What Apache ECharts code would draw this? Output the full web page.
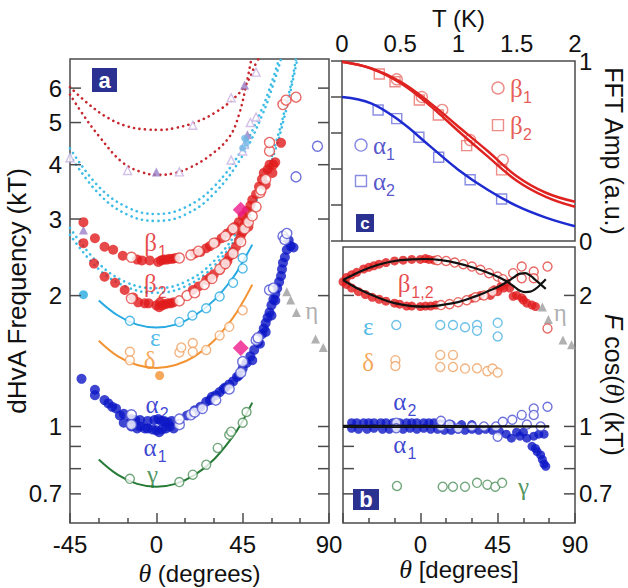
<!DOCTYPE html>
<html>
<head>
<meta charset="utf-8">
<script src="https://cdn.jsdelivr.net/npm/echarts@6/dist/echarts.min.js"></script>
<style>
  html, body { margin: 0; padding: 0; background: #fff; }
  #chart { width: 628px; height: 588px; }
</style>
</head>
<body>
<div id="chart"></div>
<script>
// ---------------- Panel a: dHvA frequency (kT) versus field angle ----------------
const redFitUpper = [[-45,6.03],[-35,5.5],[-25,5.12],[-15,4.9],[-5,4.82],[2,4.81],[10,4.86],[20,5.0],[30,5.25],[40,5.66],[47,6.15],[52,6.85],[53.2,7.0]];
const redFitLower = [[-45,5.8],[-38,5.2],[-30,4.66],[-18,4.06],[-8,3.85],[1,3.79],[10,3.83],[18,3.95],[28,4.2],[38,4.63],[43,5.2],[47,6.15],[49.5,7.0]];
const cyanFitUpperA = [[-45,4.36],[-30,3.56],[-15,3.19],[0,3.08],[15,3.19],[30,3.56],[45,4.36],[55,5.37],[60,6.16],[64,7.0]];
const cyanFitUpperB = [[-45,4.2],[-30,3.43],[-15,3.07],[0,2.97],[15,3.07],[30,3.43],[45,4.2],[55,5.18],[60,5.94],[65,7.0]];
const cyanFitLowerA = [[-45,2.86],[-30,2.37],[-15,2.14],[0,2.08],[15,2.15],[30,2.4],[45,2.94],[55,3.6],[62,4.45],[67,5.35],[71,6.35],[72.8,7.0]];
const cyanFitLowerB = [[-45,2.76],[-30,2.3],[-15,2.09],[0,2.03],[15,2.1],[30,2.34],[45,2.87],[55,3.54],[62,4.32],[67,5.2],[71,6.2],[73.5,7.0]];
const epsFit   = [[-30,1.95],[-20,1.8],[-10,1.715],[0,1.69],[10,1.715],[20,1.8],[30,1.95],[40,2.2],[45,2.39],[50,2.62]];
const deltaFit = [[-30,1.575],[-20,1.45],[-10,1.385],[0,1.364],[10,1.385],[20,1.45],[30,1.575],[40,1.78],[45,1.93],[50,2.12]];
const gammaFit = [[-30,0.84],[-20,0.774],[-10,0.738],[0,0.727],[10,0.738],[20,0.774],[30,0.84],[40,0.95],[45,1.03],[50,1.135]];

const betaFilled = [
  [-38,2.95],[-32,2.71],[-27,2.59],[-22.5,2.55],[-17.5,2.47],[-10,2.42],[-7.5,2.41],[-3.5,2.41],[1,2.39],[2.5,2.41],[4,2.42],[5.5,2.42],[7,2.43],[8.5,2.43],[10,2.44],
  [20,2.5],[23,2.52],[26,2.57],[28,2.6],[31,2.65],[34,2.71],[37,2.78],[39,2.82],[41,2.88],[43,2.95],[45,3.05],[47,3.13],[49,3.22],[50,3.32],[52,3.42],[53.5,3.56],[55,3.7],[56,3.83],[57,3.6],[58,3.9],[59,4.0],[60.5,3.83],[61,4.0],[62,4.05],[65,4.49],
  [-38,2.64],[-32.5,2.37],[-27,2.21],[-21.5,2.14],[-16.5,2.06],[-12,1.98],[-9.5,1.93],[-6,1.92],[-4,1.92],[0,1.9],[1.5,1.88],[3,1.9],[4.5,1.91],[6,1.92],[7.5,1.92],[9,1.93],[2,1.93],
  [19,2.06],[22,2.1],[26,2.17],[28,2.2],[30,2.24],[33,2.29],[35,2.35],[37,2.4],[38,2.46],[40,2.52],[41.5,2.59],[43,2.67],[44,2.75],[45,2.8],[46,2.9],[47,2.98],[48,2.88]
];
const betaOpen = [
  [-13,2.45],[12,2.44],[18,2.48],[22,2.53],[30,2.64],[36,2.74],[40,2.85],[-13,1.97],[12,1.945],[16,2.0],[20,2.03],[25,2.12],[29,2.19],[33,2.3],[36,2.37],
  [40,2.5],[44,2.66],[46,2.85],[48,2.95],[50,3.05],[52,3.2],[54,3.45],[57,3.7],[54.6,3.5],[59,4.3],[59,4.5],[66,5.5],[67.6,5.63],[72.8,5.72]
];
const alphaFilled = [
  [-39,1.287],[-32,1.215],[-32,1.18],[-27,1.15],[-25,1.13],[-23,1.11],[-21,1.1],[-19,1.06],[-17,1.07],[-13,1.04],[-11,1.035],[-8.5,1.035],[-4.5,1.03],[-1,1.035],[1,1.04],[2.5,1.03],[4,1.03],[6,1.02],[8,1.03],
  [-17,1.02],[-13,1.0],[-10,0.99],[-8.5,1.0],[-6,0.99],[-4.5,0.99],[-2,0.985],[0,0.98],[1.5,0.97],[3,0.985],[5,0.99],[7,1.0],[9,0.99],
  [16,1.06],[20,1.09],[23,1.11],[26,1.14],[28,1.15],[29,1.17],[31,1.18],[33,1.2],[35,1.22],[36,1.23],[38,1.25],[40,1.27],[42,1.3],[43,1.31],
  [45,1.36],[47,1.4],[49,1.45],[51,1.5],[53,1.56],[55,1.63],[56,1.68],[57,1.73],[58,1.78],[59,1.83],[60,1.9],[61,1.96],[62,2.02],[63,2.08],[64,2.15],[65,2.22],[65.5,2.3],[66,2.38],[67,2.45],[68,2.55],[70,2.6],[71.5,2.58],[69,2.68],
  [50,1.42],[54,1.55],[57,1.65],[60,1.8],[62,1.95]
];
const alphaOpen = [
  [-13,1.064],[-13,1.01],[12,1.01],[18,1.064],[12,1.04],[20,1.08],[24,1.1],[31,1.15],[38,1.22],[44,1.33],[45,1.41],[52,1.58],[53,1.6],[59,2.06],[61,2.08],
  [66,2.74],[67,2.69],[68,2.78],[72.8,3.75],[84,4.41]
];
const epsOpen   = [[-13.8,1.75],[12,1.74],[18.8,1.8],[26,1.87],[33,1.99],[40,2.14],[45,2.31],[45,2.44]];
const deltaOpen = [[-13.8,1.485],[-13.8,1.42],[12,1.48],[13,1.52],[19,1.556],[19,1.485],[26,1.5],[33,1.62],[38,1.695],[45,1.85]];
const gammaOpen = [[-13.8,0.758],[12,0.745],[19,0.775],[26,0.817],[32,0.893],[38,0.957],[39,0.973],[45,1.02],[47,1.08]];
const epsDot    = [[-38,2.01]];
const deltaDot  = [[1.7,1.31]];
const cyanDots  = [[47,4.49],[45,4.37],[46,4.6]];
const etaA      = [[68,2.04],[70,1.955],[73,1.83],[83,1.59],[87,1.52]];
const triFilled = [[-38,2.83],[0,3.85],[46,6.1],[47.5,4.69]];
const triOpen   = [[-45,4.15],[-15,3.88],[12,3.85],[19,4.93],[52,6.53],[39,5.7],[52,5.15],[46,4.45],[39,4.1],[49,5.0],[45,4.3]];
const diamonds  = [[44,3.15],[44,1.516]];

// ---------------- Panel c: FFT amplitude versus temperature ----------------
const tempK     = [0,0.25,0.5,0.75,1.0,1.25,1.5,1.75,2.0];
const ampBeta1  = [0.996,0.96,0.885,0.77,0.635,0.50,0.36,0.268,0.218];
const ampBeta2  = [0.996,0.958,0.878,0.755,0.61,0.47,0.335,0.245,0.19];
const ampAlpha  = [0.80,0.765,0.665,0.53,0.395,0.285,0.195,0.13,0.082];
const beta1Pts  = [[0.47,0.898],[0.685,0.80],[0.86,0.728],[1.1,0.561],[1.38,0.45]];
const beta2Pts  = [[0.32,0.928],[0.455,0.885],[0.664,0.783],[0.827,0.70],[1.07,0.53],[1.37,0.395]];
const alpha2Pts = [[0.31,0.728],[0.47,0.68],[0.66,0.576],[0.83,0.465],[1.1,0.34],[1.37,0.233]];

// ---------------- Panel b: F cos(theta) versus angle ----------------
const lensUpper = [[-45,2.17],[-35,2.27],[-25,2.35],[-15,2.4],[-5,2.42],[3,2.425],[12,2.41],[22,2.37],[32,2.31],[40,2.25],[46,2.2],[50.6,2.15],[55,2.09],[58,2.05],[61,2.035],[64,2.04],[67,2.07],[70,2.12],[73,2.18]];
const lensLower = [[-45,2.17],[-35,2.06],[-25,1.98],[-15,1.92],[-5,1.89],[3,1.885],[12,1.9],[22,1.93],[32,1.99],[40,2.05],[46,2.1],[50.6,2.15],[55,2.21],[58,2.245],[61,2.25],[64,2.22],[67,2.17],[70,2.12],[73,2.07]];
const alphaFitHi = [[-45,1.004],[0,1.004],[40,1.002],[75,0.999]];
const alphaFitLo = [[-45,0.996],[0,0.996],[40,0.998],[75,1.001]];
const betaFilledB = [
  [-45,2.15],[-43,2.2],[-40,2.23],[-37,2.26],[-33,2.3],[-30,2.32],[-27,2.34],[-24,2.36],[-20,2.38],[-15,2.4],[-10,2.41],[-5,2.42],[0,2.42],[3,2.43],[5,2.42],[8,2.41],
  [-43,2.12],[-40,2.08],[-36,2.04],[-32,2.01],[-28,1.98],[-24,1.96],[-20,1.94],[-15,1.92],[-12,1.91],[-8,1.89],[-5,1.89],[0,1.885],[3,1.89],[6,1.89],[9,1.9],
  [30,1.97],[35,2.0],[40.7,2.0],[43,2.06],[45,2.04],[47,2.1],[48.5,2.08],[50,2.14],[52,2.08],[54,1.99],[56,2.0],[59,1.975],[60,1.95],[62,1.92],[65,1.9],[67,1.885]
];
const betaOpenB = [
  [10,2.41],[15,2.4],[20,2.38],[25,2.36],[30,2.33],[35,2.29],[40,2.25],[45,2.21],[48,2.18],
  [12,1.9],[17,1.91],[22,1.93],[27,1.95],[32,1.98],[37,2.0],[42,2.04],
  [54,2.25],[59,2.33],[66,2.27],[74,2.33],[59,2.19],[66,2.19],[74,1.68]
];
const alphaFilledB = [
  [-40,1.02],[-37,1.02],[-33,1.02],[-30,1.02],[-27,1.02],[-23,1.02],[-20,1.02],[-16,1.02],[-12,1.02],[-8,1.02],[-5,1.02],[-2,1.02],[2,1.02],[5,1.02],[8,1.02],[12,1.015],[18,1.01],[24,1.01],[30,1.01],
  [-40,0.99],[-36,0.985],[-31,0.985],[-27,0.99],[-22,0.985],[-18,0.985],[-14,0.99],[-10,0.985],[-6,0.99],[-2,0.985],[2,0.99],[6,0.985],[10,0.985],[14,0.98],[18,0.98],[22,0.985],[26,0.98],[30,0.985],[34,0.98],[38,0.985],[42,0.98],
  [46,0.975],[50,0.96],[53,0.94],[56,0.97],[58,0.95],[60,0.97],[62,0.94],[65,0.9],[67,0.89],[68,0.875],[70,0.86],[71,0.84],[72,0.82],[73,0.81],[66,0.95],[69,0.96],[72,0.96]
];
const alphaOpenB = [[-14,1.02],[-14,0.99],[12,1.0],[12,1.03],[17,1.01],[22,0.99],[30,1.0],[37,1.0],[44,1.0],[48,1.025],[53.5,1.036],[59,1.063],[66,1.1],[66,1.063],[74,1.11],[45,0.947],[70,1.0],[62,1.01]];
const epsB   = [[-14,1.71],[11.6,1.71],[19,1.71],[26,1.69],[33,1.71],[33,1.66],[45,1.73],[45,1.61]];
const deltaB = [[-14.5,1.42],[-14.5,1.377],[11.6,1.46],[11.6,1.37],[19,1.46],[19,1.37],[26,1.358],[33,1.36],[39,1.34],[42,1.358],[45,1.33]];
const gammaB = [[-13.6,0.73],[13,0.727],[19,0.727],[26,0.727],[33,0.742],[39,0.735],[43.6,0.727],[47.6,0.742]];
const etaB   = [[71,1.88],[74.5,1.76],[83,1.58],[88,1.54]];

// ---------------- tick values and branch labels ----------------
const freqTicks  = [0.7, 0.8, 0.9, 1, 2, 3, 4, 5, 6];
const freqLabels = [0.7, 1, 2, 3, 4, 5, 6];
const fcosTicks  = [0.7, 0.8, 0.9, 1, 2];
const fcosLabels = [0.7, 1, 2];
// [theta, F, letter, subscript]; a subscripted label is anchored where letter and subscript meet
const labelsRedA    = [[0.4,2.644,'β','1'],[0.2,2.138,'β','2']];
const labelsCyanA   = [[-0.5,1.6,'ε','']];
const labelsOrangeA = [[-3.5,1.42,'δ','']];
const labelsBlueA   = [[1.2,1.122,'α','2'],[0.2,0.893,'α','1']];
const labelsGreenA  = [[-2,0.774,'γ','']];
const labelsGrayA   = [[81,1.85,'η','']];
const labelsRedB    = [[-5.8,2.13,'β','1,2']];
const labelsCyanB   = [[-30.3,1.695,'ε','']];
const labelsOrangeB = [[-30.3,1.40,'δ','']];
const labelsBlueB   = [[-8.1,1.14,'α','2'],[-8.1,0.908,'α','1']];
const labelsGreenB  = [[60,0.727,'γ','']];
const labelsGrayB   = [[81.5,1.826,'η','']];
// key entries of panel c: [T, amplitude, letter, subscript]
const keyBeta1  = [[1.339,0.85,'β','1']];
const keyBeta2  = [[1.339,0.644,'β','2']];
const keyAlpha1 = [[0.163,0.533,'α','1']];
const keyAlpha2 = [[0.163,0.333,'α','2']];

// ---------------- drawing ----------------
const SANS = '"Liberation Sans", Arial, sans-serif';
const SERIF = '"Liberation Serif", "Times New Roman", serif';
const C = {
  red: '#e11b1d', redOpen: '#e2443f', redDot: '#c6262c',
  cyan: '#27a9e1', cyanDot: '#3dbde6',
  orange: '#f39230', blue: '#0d17c6', blueOpen: '#4a4fd2',
  green: '#257a36', gray: '#9c9c9c', magenta: '#ec1a8c',
  purple: '#9a80c8', purpleLight: '#c8b2e2', navy: '#2b3190',
  frame: '#4b4b4b', text: '#111'
};

const chart = echarts.init(document.getElementById('chart'), null, { renderer: 'svg' });

function fitLine(data, xi, yi, color, width, dotted, z) {
  return {
    type: 'line', data, xAxisIndex: xi, yAxisIndex: yi, smooth: 0.4,
    showSymbol: false, silent: true, z: z || (dotted ? 1 : 4),
    lineStyle: { color, width, type: dotted ? [0.1, 5.4] : 'solid', cap: dotted ? 'round' : 'butt' }
  };
}
function marks(data, xi, yi, opt) {
  return {
    type: 'scatter', data, xAxisIndex: xi, yAxisIndex: yi, silent: true,
    symbol: opt.symbol || 'circle', symbolSize: opt.size || 10, z: opt.z || 3,
    itemStyle: opt.open
      ? { color: opt.fill || '#fff', borderColor: opt.color, borderWidth: opt.bw || 1.4 }
      : { color: opt.color, borderWidth: 0 }
  };
}
// Greek branch letters (serif) plus their lowered subscripts (sans), as two label layers
function greek(items, xi, yi, color, size, keyMode) {
  const base = { type: 'scatter', xAxisIndex: xi, yAxisIndex: yi, silent: true, z: 8, symbolSize: 0 };
  const letters = Object.assign({}, base, {
    data: items.map(d => {
      const item = { value: [d[0], d[1]], name: d[2] };
      if (d[3] && !keyMode) item.label = { align: 'right' };
      return item;
    }),
    label: {
      show: true, position: keyMode ? 'right' : 'inside', distance: 12,
      formatter: p => p.name, fontFamily: SERIF, fontSize: size, color
    }
  });
  const subs = Object.assign({}, base, {
    data: items.filter(d => d[3]).map(d => ({ value: [d[0], d[1]], name: d[3] })),
    label: {
      show: true, position: keyMode ? 'right' : 'inside', distance: 12, align: 'left',
      offset: keyMode ? [13, 9] : [1, 9],
      formatter: p => p.name, fontFamily: SANS, fontSize: Math.round(size * 0.62), color
    }
  });
  return [letters, subs];
}
function logTicks(values, labels, xi, yi, xMin, xMax, labelSide, leftTicks, rightTicks) {
  return {
    type: 'custom', xAxisIndex: xi, yAxisIndex: yi, silent: true, z: 5,
    data: values.map(v => [xMin, v]),
    renderItem: (params, api) => {
      const v = api.value(1);
      const l = api.coord([xMin, v]);
      const r = api.coord([xMax, v]);
      const kids = [];
      const st = { stroke: C.frame, lineWidth: 1.5 };
      if (leftTicks) kids.push({ type: 'line', shape: { x1: l[0], y1: l[1], x2: l[0] + 11, y2: l[1] }, style: st });
      if (rightTicks) kids.push({ type: 'line', shape: { x1: r[0] - 11, y1: r[1], x2: r[0], y2: r[1] }, style: st });
      if (labels.indexOf(v) >= 0) {
        const left = labelSide === 'left';
        kids.push({ type: 'text', style: {
          text: String(v), x: left ? l[0] - 8 : r[0] + 4, y: l[1],
          align: left ? 'right' : 'left', verticalAlign: 'middle',
          fill: C.text, font: '24px ' + SANS
        } });
      }
      return { type: 'group', children: kids };
    }
  };
}

const angleAxisBase = {
  type: 'value', min: -45, max: 90, interval: 45,
  axisLine: { show: false }, splitLine: { show: false },
  axisTick: { show: true, inside: true, length: 10, lineStyle: { color: C.frame, width: 1.5 } },
  minorTick: { show: true, splitNumber: 3, length: 5, lineStyle: { color: C.frame, width: 1.5 } },
  axisLabel: { color: C.text, fontFamily: SANS, fontSize: 24, margin: 9 },
  nameLocation: 'middle', nameGap: 32,
  nameTextStyle: { color: C.text, fontFamily: SANS, fontSize: 24,
    rich: { i: { fontFamily: SERIF, fontStyle: 'italic', fontSize: 26, color: C.text } } }
};
const hiddenLog = (min, max, grid, pos, extra) => Object.assign({
  type: 'log', logBase: 10, min, max, gridIndex: grid, position: pos,
  axisLine: { show: false }, axisTick: { show: false }, axisLabel: { show: false }, splitLine: { show: false }
}, extra || {});

const option = {
  animation: false,
  backgroundColor: '#fff',
  grid: [
    { left: 70, top: 59, width: 259, height: 464, show: true, borderColor: C.frame, borderWidth: 1.5, outerBoundsMode: 'none' },
    { left: 342, top: 61, width: 233, height: 180, show: true, borderColor: C.frame, borderWidth: 1.5, outerBoundsMode: 'none' },
    { left: 343, top: 247, width: 232, height: 276, show: true, borderColor: C.frame, borderWidth: 1.5, outerBoundsMode: 'none' }
  ],
  xAxis: [
    Object.assign({}, angleAxisBase, { gridIndex: 0, position: 'bottom', name: '{i|θ} (degrees)' }),
    {
      type: 'value', gridIndex: 1, position: 'top', min: 0, max: 2, interval: 0.5,
      axisLine: { show: false }, splitLine: { show: false }, axisTick: { show: false },
      axisLabel: { color: C.text, fontFamily: SANS, fontSize: 24, margin: 6 },
      name: 'T (K)', nameLocation: 'middle', nameGap: 30,
      nameTextStyle: { color: C.text, fontFamily: SANS, fontSize: 24 }
    },
    Object.assign({}, angleAxisBase, { gridIndex: 2, position: 'bottom', name: '{i|θ} [degrees]',
      axisLabel: Object.assign({}, angleAxisBase.axisLabel, { formatter: v => (v === -45 ? '' : String(v)) }) })
  ],
  yAxis: [
    hiddenLog(0.6, 7, 0, 'left', {
      name: 'dHvA Frequency (kT)', nameLocation: 'middle', nameGap: 40, nameRotate: 90,
      nameTextStyle: { color: C.text, fontFamily: SANS, fontSize: 26 }
    }),
    hiddenLog(0.6, 7, 0, 'right'),
    {
      type: 'value', gridIndex: 1, position: 'right', min: 0, max: 1, interval: 0.2,
      axisLine: { show: false }, splitLine: { show: false },
      axisTick: { show: true, inside: true, length: 11, lineStyle: { color: C.frame, width: 1.5 } },
      axisLabel: { color: C.text, fontFamily: SANS, fontSize: 24, margin: 4,
        formatter: v => (v === 0 || v === 1 ? String(v) : '') },
      name: 'FFT Amp (a.u.)', nameLocation: 'middle', nameGap: 26, nameRotate: -90,
      nameTextStyle: { color: C.text, fontFamily: SANS, fontSize: 25 }
    },
    hiddenLog(0.6, 2.584, 2, 'right', {
      name: '{fi|F} cos({ti|θ}) (kT)', nameLocation: 'middle', nameGap: 26, nameRotate: -90,
      nameTextStyle: { color: C.text, fontFamily: SANS, fontSize: 25,
        rich: { fi: { fontFamily: SANS, fontStyle: 'italic', fontSize: 25, color: C.text },
                ti: { fontFamily: SERIF, fontStyle: 'italic', fontSize: 26, color: C.text } } }
    }),
    hiddenLog(0.6, 2.584, 2, 'left')
  ],
  graphic: [
    { type: 'rect', shape: { x: 92, y: 68, width: 25, height: 24 }, style: { fill: C.navy }, z: 10 },
    { type: 'text', style: { text: 'a', x: 104.5, y: 80, align: 'center', verticalAlign: 'middle', fill: '#fff', font: 'bold 22px ' + SANS }, z: 11 },
    { type: 'rect', shape: { x: 356, y: 214, width: 18, height: 18 }, style: { fill: C.navy }, z: 10 },
    { type: 'text', style: { text: 'c', x: 365, y: 223, align: 'center', verticalAlign: 'middle', fill: '#fff', font: 'bold 17px ' + SANS }, z: 11 },
    { type: 'rect', shape: { x: 353, y: 489, width: 26, height: 21 }, style: { fill: C.navy }, z: 10 },
    { type: 'text', style: { text: 'b', x: 366, y: 499.5, align: 'center', verticalAlign: 'middle', fill: '#fff', font: 'bold 22px ' + SANS }, z: 11 }
  ],
  series: [
    // panel a fits
    fitLine(redFitUpper, 0, 0, C.redDot, 2.6, true),
    fitLine(redFitLower, 0, 0, C.redDot, 2.6, true),
    fitLine(cyanFitUpperA, 0, 0, C.cyanDot, 2.6, true),
    fitLine(cyanFitUpperB, 0, 0, C.cyanDot, 2.6, true),
    fitLine(cyanFitLowerA, 0, 0, C.cyanDot, 2.6, true),
    fitLine(cyanFitLowerB, 0, 0, C.cyanDot, 2.6, true),
    fitLine(epsFit, 0, 0, C.cyan, 2, false),
    fitLine(deltaFit, 0, 0, C.orange, 2, false),
    fitLine(gammaFit, 0, 0, C.green, 2, false),
    // panel a data
    marks(triOpen, 0, 0, { symbol: 'triangle', size: 8, open: true, color: C.purpleLight }),
    marks(triFilled, 0, 0, { symbol: 'triangle', size: 9, color: C.purple }),
    marks(cyanDots, 0, 0, { size: 7, color: '#6fb8e6' }),
    marks(betaFilled, 0, 0, { size: 10, color: C.red }),
    marks(betaOpen, 0, 0, { size: 10, open: true, color: C.redOpen, z: 4 }),
    marks(alphaFilled, 0, 0, { size: 10, color: C.blue }),
    marks(alphaOpen, 0, 0, { size: 10, open: true, color: C.blueOpen, z: 4 }),
    marks(epsOpen, 0, 0, { size: 9, open: true, color: C.cyan, z: 5 }),
    marks(deltaOpen, 0, 0, { size: 9, open: true, color: '#f0a060', z: 5 }),
    marks(gammaOpen, 0, 0, { size: 9, open: true, color: '#4b8f57', z: 5 }),
    marks(epsDot, 0, 0, { size: 9, color: C.cyan }),
    marks(deltaDot, 0, 0, { size: 9, color: C.orange }),
    marks(etaA, 0, 0, { symbol: 'triangle', size: 9, color: C.gray }),
    marks(diamonds, 0, 0, { symbol: 'diamond', size: 16, color: C.magenta, z: 6 }),
    ...greek(labelsRedA, 0, 0, C.red, 25),
    ...greek(labelsCyanA, 0, 0, C.cyan, 25),
    ...greek(labelsOrangeA, 0, 0, C.orange, 25),
    ...greek(labelsBlueA, 0, 0, C.blue, 25),
    ...greek(labelsGreenA, 0, 0, C.green, 25),
    ...greek(labelsGrayA, 0, 0, C.gray, 25),
    logTicks(freqTicks, freqLabels, 0, 0, -45, 90, 'left', true, true),

    // panel c
    fitLine(tempK.map((t, i) => [t, ampBeta1[i]]), 1, 2, '#df2321', 2.5, false),
    fitLine(tempK.map((t, i) => [t, ampBeta2[i]]), 1, 2, '#df2321', 2.5, false),
    fitLine(tempK.map((t, i) => [t, ampAlpha[i]]), 1, 2, '#1d2bd0', 2.5, false),
    marks(beta1Pts, 1, 2, { size: 11, open: true, fill: 'rgba(0,0,0,0)', color: '#e8716c' }),
    marks(beta2Pts, 1, 2, { symbol: 'rect', size: 10, open: true, fill: 'rgba(0,0,0,0)', color: '#e8716c' }),
    marks(alpha2Pts, 1, 2, { symbol: 'rect', size: 10, open: true, fill: 'rgba(0,0,0,0)', color: '#6a6fdc' }),
    marks(keyBeta1.map(d => d.slice(0, 2)), 1, 2, { size: 12, open: true, fill: 'rgba(0,0,0,0)', color: '#e8716c' }),
    marks(keyBeta2.map(d => d.slice(0, 2)), 1, 2, { symbol: 'rect', size: 11, open: true, fill: 'rgba(0,0,0,0)', color: '#e8716c' }),
    marks(keyAlpha1.map(d => d.slice(0, 2)), 1, 2, { size: 12, open: true, fill: 'rgba(0,0,0,0)', color: '#6a6fdc' }),
    marks(keyAlpha2.map(d => d.slice(0, 2)), 1, 2, { symbol: 'rect', size: 11, open: true, fill: 'rgba(0,0,0,0)', color: '#6a6fdc' }),
    ...greek(keyBeta1, 1, 2, '#e0302a', 25, true),
    ...greek(keyBeta2, 1, 2, '#e0302a', 25, true),
    ...greek(keyAlpha1, 1, 2, '#2a2ac0', 25, true),
    ...greek(keyAlpha2, 1, 2, '#2a2ac0', 25, true),

    // panel b
    marks(betaFilledB, 2, 3, { size: 9, color: C.red }),
    marks(betaOpenB, 2, 3, { size: 9, open: true, color: C.redOpen, z: 4 }),
    marks(alphaFilledB, 2, 3, { size: 9, color: C.blue }),
    marks(alphaOpenB, 2, 3, { size: 9, open: true, color: C.blueOpen, z: 4 }),
    marks(epsB, 2, 3, { size: 9, open: true, color: '#48b0e2' }),
    marks(deltaB, 2, 3, { size: 9, open: true, color: '#efa062' }),
    marks(gammaB, 2, 3, { size: 9, open: true, color: '#4b8f57' }),
    marks(etaB, 2, 3, { symbol: 'triangle', size: 9, color: C.gray }),
    fitLine(lensUpper, 2, 3, '#111', 2.2, false, 7),
    fitLine(lensLower, 2, 3, '#111', 2.2, false, 7),
    fitLine(alphaFitHi, 2, 3, '#111', 1.8, false, 7),
    fitLine(alphaFitLo, 2, 3, '#111', 1.8, false, 7),
    ...greek(labelsRedB, 2, 3, C.red, 25),
    ...greek(labelsCyanB, 2, 3, C.cyan, 25),
    ...greek(labelsOrangeB, 2, 3, C.orange, 25),
    ...greek(labelsBlueB, 2, 3, C.blue, 25),
    ...greek(labelsGreenB, 2, 3, C.green, 25),
    ...greek(labelsGrayB, 2, 3, C.gray, 25),
    logTicks(fcosTicks, fcosLabels, 2, 3, -45, 90, 'right', true, true)
  ]
};
chart.setOption(option);
</script>
</body>
</html>
